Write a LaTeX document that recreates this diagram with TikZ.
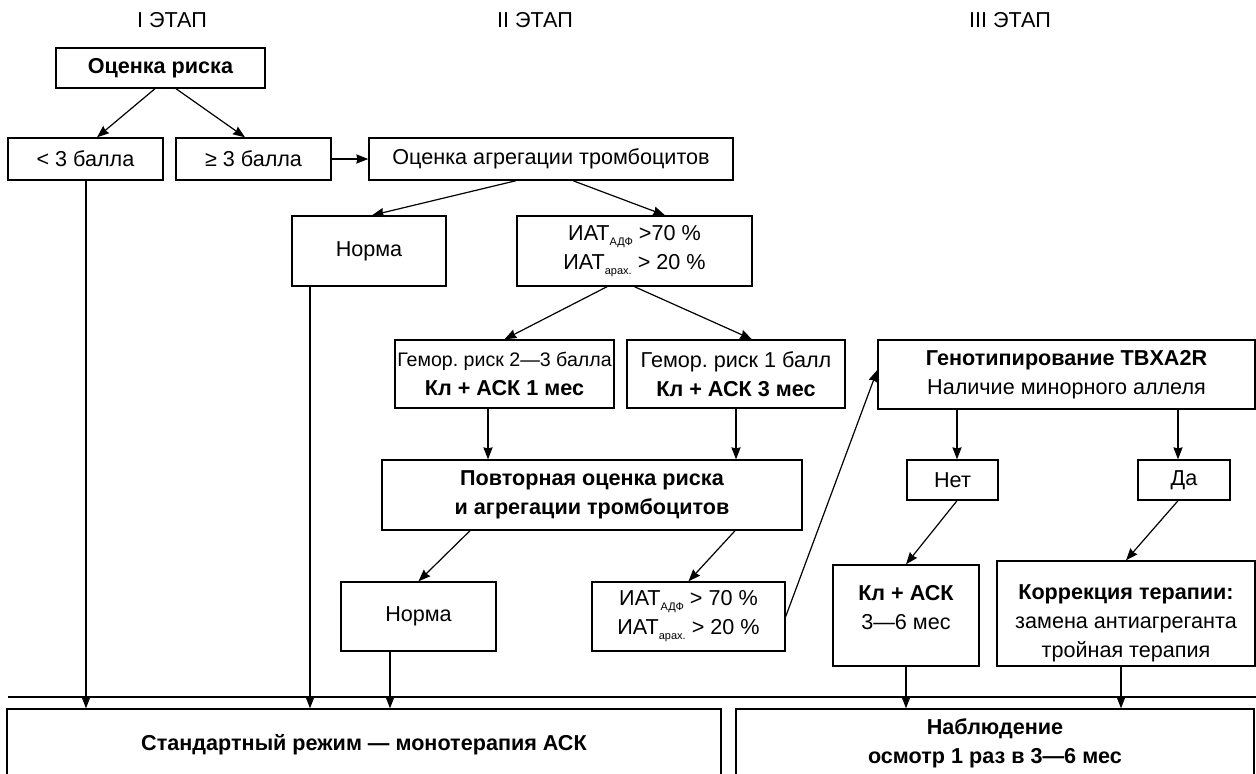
\documentclass[tikz,border=0pt]{standalone}
\usepackage{fontspec}
\setmainfont{Liberation Sans}
\usepackage{tikz}
\usetikzlibrary{arrows.meta,calc,positioning}
\newcommand{\iatsub}[1]{\raisebox{-0.45ex}{\fontsize{5.5}{6}\selectfont #1}}

\tikzset{
  box/.style={draw,line width=0.7pt,align=center,inner sep=2pt},
  link/.style={->,line width=0.6pt},
}

\begin{document}
\begin{tikzpicture}[>={Stealth[length=6pt,width=4.6pt,inset=0.6pt]},x=0.5pt,y=-0.5pt,font=\fontsize{10.8}{14.5}\selectfont\frenchspacing]
\useasboundingbox (0,0) rectangle (1256,773);
\clip (0,0) rectangle (1256,773);
\node (st1) at (172,20) {I ЭТАП};
\node (st2) at (535,20) {II ЭТАП};
\node (st3) at (1010,20) {III ЭТАП};
\node[box,minimum width=104.5pt,minimum height=20pt] (risk) at (160.5,68) {\textbf{Оценка риска}};
\node[box,minimum width=77.5pt,minimum height=21pt] (low) at (85.5,159) {< 3 балла};
\node[box,minimum width=77.5pt,minimum height=21pt] (high) at (253.5,159) {≥ 3 балла};
\node[box,minimum width=182pt,minimum height=21pt] (aggr) at (551,159) {Оценка агрегации тромбоцитов};
\node[box,minimum width=77pt,minimum height=35pt] (norm1) at (369,251) {Норма};
\node[box,minimum width=117.5pt,minimum height=35pt] (iat1) at (634.5,251) {ИАТ\iatsub{АДФ} >70 \%\\ИАТ\iatsub{арах.} > 20 \%};
\node[box,inner xsep=0pt,minimum width=109.5pt,minimum height=34pt] (hemb) at (504.5,374) {{\fontsize{9.8}{14.5}\selectfont Гемор. риск 2—3 балла}\\\textbf{Кл + АСК 1 мес}};
\node[box,inner xsep=0pt,minimum width=109pt,minimum height=34pt] (hema) at (736,374) {Гемор. риск 1 балл\\\textbf{Кл + АСК 3 мес}};
\node[box,minimum width=210pt,minimum height=35pt] (again) at (592,495) {\textbf{Повторная оценка риска}\\\textbf{и агрегации тромбоцитов}};
\node[box,minimum width=77.5pt,minimum height=34.5pt] (norm2) at (418.5,616.5) {Норма};
\node[box,minimum width=96.5pt,minimum height=34.5pt] (iat2) at (688.5,616.5) {ИАТ\iatsub{АДФ} > 70 \%\\ИАТ\iatsub{арах.} > 20 \%};
\node[box,minimum width=188.5pt,minimum height=34.5pt] (geno) at (1066.5,374.5) {\textbf{Генотипирование TBXA2R}\\Наличие минорного аллеля};
\node[box,minimum width=45.5pt,minimum height=20pt] (no) at (952.5,480) {Нет};
\node[box,minimum width=46pt,minimum height=20pt] (yes) at (1184,480) {Да};
\node[box,minimum width=73pt,minimum height=50.5pt] (kl) at (906,615.5) {\rule{0pt}{14pt}\textbf{Кл + АСК}\\3—6 мес\\\mbox{}};
\node[box,minimum width=129pt,minimum height=52.5pt] (corr) at (1126,613.5) {\rule{0pt}{17pt}\textbf{Коррекция терапии:}\\замена антиагреганта\\тройная терапия};
\node[box,minimum width=357pt,minimum height=36pt] (std) at (364,745) {\textbf{Стандартный режим — монотерапия АСК}};
\node[box,minimum width=259pt,minimum height=34pt] (obs) at (995,743) {\textbf{Наблюдение}\\\textbf{осмотр 1 раз в 3—6 мес}};
\coordinate (rulel) at (8,697);
\coordinate (ruler) at (1256,697);
\draw[line width=0.7pt] (rulel) -- (ruler);
\draw[link] ([xshift=-2.75pt]risk.south) -- ([xshift=5.75pt]low.north);
\draw[link] ([xshift=7.75pt]risk.south) -- ([xshift=-4.25pt]high.north);
\draw[link] (high.east) -- (aggr.west);
\draw[link] ([xshift=-17.5pt]aggr.south) -- ([xshift=1.5pt]norm1.north);
\draw[link] ([xshift=11pt]aggr.south) -- ([xshift=15.25pt]iat1.north);
\draw[link] ([xshift=-13.75pt]iat1.south) -- (hemb.north);
\draw[link] (iat1.south) -- ([xshift=8pt]hema.north);
\draw[link] ([xshift=-8.25pt]hemb.south) -- ([xshift=-52pt]again.north);
\draw[link] (hema.south) -- ([xshift=72pt]again.north);
\draw[link] ([xshift=-61pt]again.south) -- (norm2.north);
\draw[link] ([xshift=71.5pt]again.south) -- (iat2.north);
\draw[link] (iat2.east) -- ([yshift=2.25pt]geno.west);
\draw[link] ([xshift=-54.75pt]geno.south) -- ([xshift=2.25pt]no.north);
\draw[link] ([xshift=55.75pt]geno.south) -- ([xshift=-3pt]yes.north);
\draw[link] ([xshift=2.25pt]no.south) -- (kl.north);
\draw[link] ([xshift=-3pt]yes.south) -- (corr.north);
\draw[link] ([xshift=0.25pt]low.south) -- ([xshift=-139pt]std.north);
\draw[link] ([xshift=-29.5pt]norm1.south) -- ([xshift=-27pt]std.north);
\draw[link] ([xshift=-14.25pt]norm2.south) -- ([xshift=13pt]std.north);
\draw[link] (kl.south) -- ([xshift=-44.5pt]obs.north);
\draw[link] ([xshift=-2.5pt]corr.south) -- ([xshift=63pt]obs.north);
\end{tikzpicture}
\end{document}
